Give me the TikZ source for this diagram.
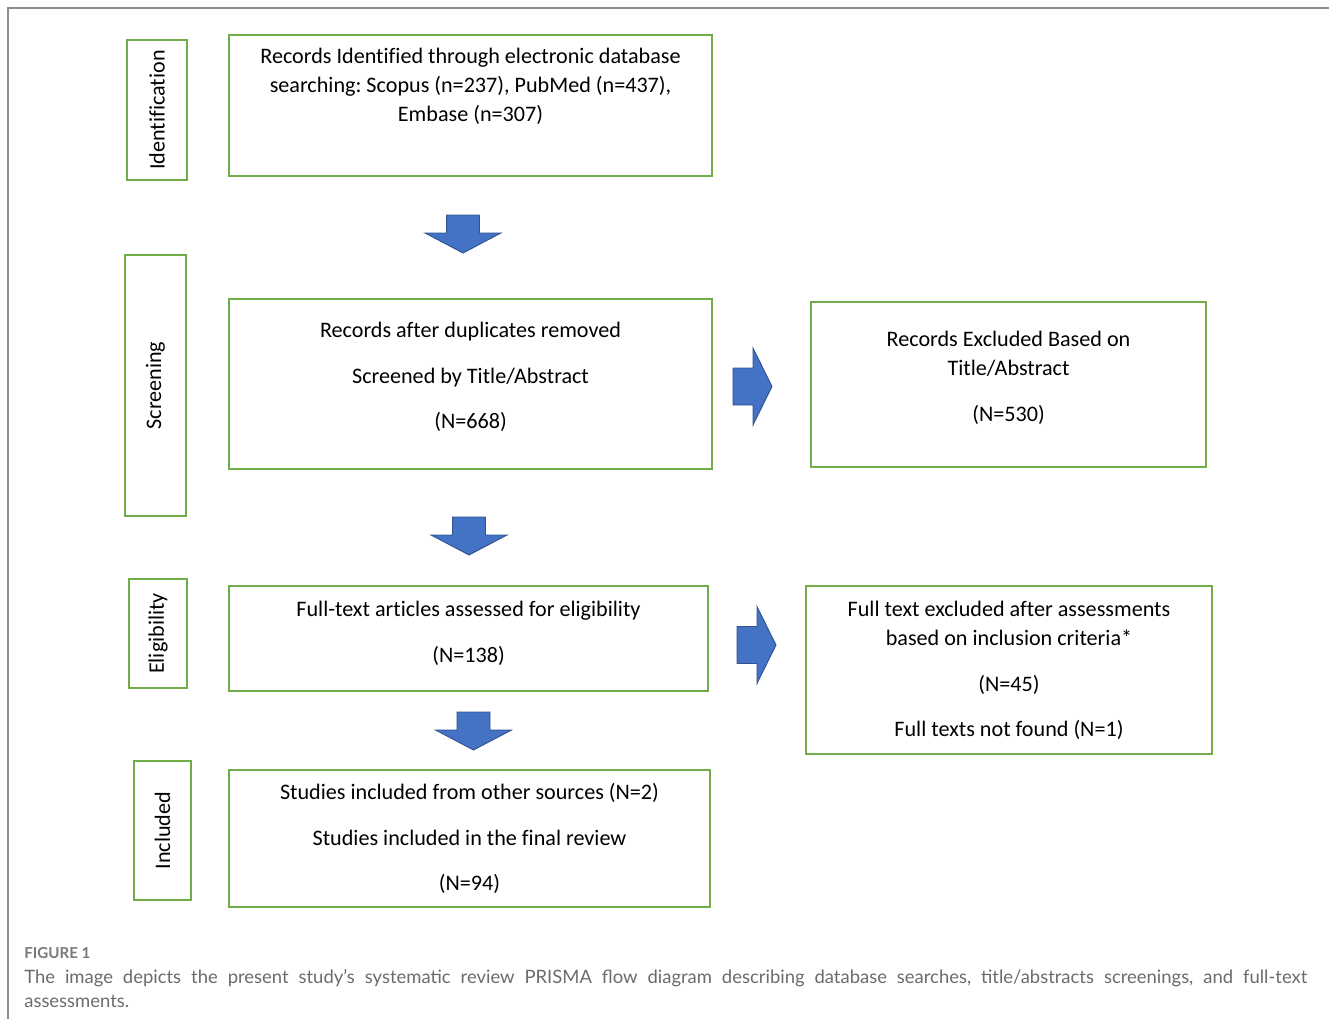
\documentclass[tikz,border=0pt]{standalone}
\usepackage{fontspec}
\setmainfont[Ligatures=NoCommon]{Carlito}
\newfontfamily\capfont{Lato}
\usepackage{xcolor}
\usepackage{tikz}
\usetikzlibrary{positioning,calc}
\frenchspacing

\definecolor{prismagreen}{HTML}{70AD47}
\definecolor{arrowblue}{HTML}{4472C4}
\definecolor{arrowedge}{HTML}{2F528F}
\definecolor{captiongray}{HTML}{6B6B6B}
\definecolor{figgray}{HTML}{7A7A7A}
\definecolor{framegray}{HTML}{8C8C8C}

\newcommand{\boxfont}{\fontsize{12.6}{16.4}\selectfont}

\tikzset{
    stage/.style={draw=prismagreen, line width=1.1pt, inner sep=0pt},
    phase/.style={draw=prismagreen, line width=1.1pt, rotate=90, inner sep=0pt, font=\boxfont},
    boxtext/.style={align=center, anchor=north, inner sep=0pt, font=\boxfont},
    blockarrow/.style={fill=arrowblue, draw=arrowedge, line width=0.5pt},
    downarrow/.pic={
        \draw[blockarrow] (-16.5,0) -- (16.5,0) -- (16.5,18) -- (38,18)
            -- (0,38) -- (-38,18) -- (-16.5,18) -- cycle;
    },
    rightarrow/.pic={
        \draw[blockarrow] (0,-18.5) -- (20,-18.5) -- (20,-38.5) -- (39,0)
            -- (20,38.5) -- (20,18.5) -- (0,18.5) -- cycle;
    }
}

\begin{document}
\begin{tikzpicture}[x=0.02cm, y=-0.02cm]
    \useasboundingbox (0,0) rectangle (1329,1019);

    % Page frame
    \draw[framegray, line width=0.6pt] (1329,8) -- (8,8) -- (8,1019);

    % Phase labels
    \node[phase, minimum width=2.8cm, minimum height=1.2cm] (identification) at (157,110) {Identification};
    \node[phase, minimum width=5.22cm, minimum height=1.22cm] (screening) at (155.5,385.5) {Screening};
    \node[phase, minimum width=2.18cm, minimum height=1.16cm] (eligibility) at (158,633.5) {Eligibility};
    \node[phase, minimum width=2.78cm, minimum height=1.14cm] (included) at (162.5,830.5) {Included};

    % Main boxes
    \node[stage, minimum width=9.66cm, minimum height=2.82cm] (records) at (470.5,105.5) {};
    \node[stage, minimum width=9.66cm, minimum height=3.4cm] (screened) at (470.5,384) {};
    \node[stage, minimum width=7.9cm, minimum height=3.3cm] (excluded) at (1008.5,384.5) {};
    \node[stage, minimum width=9.58cm, minimum height=2.1cm] (fulltext) at (468.5,638.5) {};
    \node[stage, minimum width=8.12cm, minimum height=3.36cm] (ftexcluded) at (1009,670) {};
    \node[stage, minimum width=9.62cm, minimum height=2.74cm] (final) at (469.5,838.5) {};

    % Box texts
    \node[boxtext] (recordstext) at (records.center |- 0,43)
        {\strut Records Identified through electronic database\\
         searching: Scopus (n=237), PubMed (n=437),\\
         Embase (n=307)};
    \node[boxtext] (screenedtext) at (screened.center |- 0,317)
        {\strut Records after duplicates removed\\[9.6pt]
         Screened by Title/Abstract\\[9.6pt]
         (N=668)};
    \node[boxtext] (excludedtext) at (excluded.center |- 0,326)
        {\strut Records Excluded Based on\\
         Title/Abstract\\[9.6pt]
         (N=530)};
    \node[boxtext] (fulltexttext) at (fulltext.center |- 0,596)
        {\strut Full-text articles assessed for eligibility\\[9.6pt]
         (N=138)};
    \node[boxtext] (ftexcludedtext) at (ftexcluded.center |- 0,596)
        {\strut Full text excluded after assessments\\
         based on inclusion criteria*\\[9.6pt]
         (N=45)\\[9.6pt]
         Full texts not found (N=1)};
    \node[boxtext] (finaltext) at (final.center |- 0,779)
        {\strut Studies included from other sources (N=2)\\[9.6pt]
         Studies included in the final review\\[9.6pt]
         (N=94)};

    % Block arrows
    \pic at (463,215) {downarrow};
    \pic at (469,517) {downarrow};
    \pic at (473.5,712) {downarrow};
    \pic at (733,386.5) {rightarrow};
    \pic at (737,645) {rightarrow};

    % Caption
    \node[anchor=west, inner sep=0pt, text=figgray, font=\capfont\bfseries\fontsize{8.6}{10}\selectfont] (figlabel) at (24,953) {FIGURE 1};
    \node[anchor=north west, inner sep=0pt, text width=25.66cm, align=justify, text=captiongray,
          font=\capfont\fontsize{10.5}{13.6}\selectfont] (caption) at (24,969)
        {The image depicts the present study’s systematic review PRISMA flow diagram describing database searches, title/abstracts screenings, and full-text\linebreak assessments.};
\end{tikzpicture}
\end{document}
